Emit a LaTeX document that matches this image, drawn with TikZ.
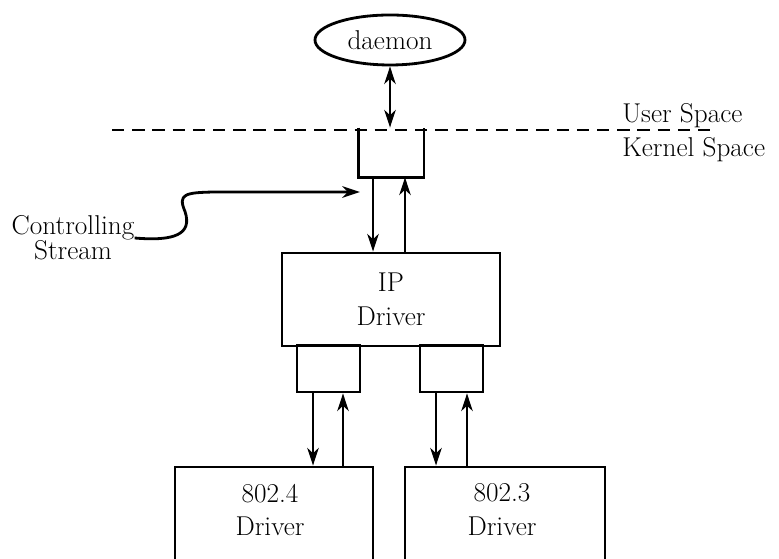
\documentclass[tikz,border=0pt]{standalone}
\usepackage{amsmath}
\usetikzlibrary{arrows.meta,shapes.geometric}

\tikzset{
  oval/.style={ellipse,draw,line width=1.6pt,minimum width=3.00cm,minimum height=1.00cm,inner sep=0pt},
  queue/.style={rectangle,line width=1.6pt,minimum width=1.26cm,minimum height=0.94cm,inner sep=0pt},
  box/.style={rectangle,draw,line width=1.6pt,inner sep=0pt,align=center},
  txt/.style={inner sep=0pt,align=center},
  flow/.style={-{Stealth[length=10pt,width=6.5pt,inset=3pt]},line width=1.6pt},
  both/.style={{Stealth[length=10pt,width=6.5pt,inset=3pt]}-{Stealth[length=10pt,width=6.5pt,inset=3pt]},line width=1.6pt},
  boundary/.style={dash pattern=on 7pt off 4.5pt,line width=1.6pt}
}

\begin{document}
\begin{tikzpicture}[font=\fontsize{15.5}{19.3}\selectfont]
            \useasboundingbox (0,0) rectangle (15.58,11.18);
            \clip (0,0) rectangle (15.58,11.18);

            \node[oval] (daemon) at ( 7.80,10.38) {daemon};
            \node[queue] (q0) at ( 7.82, 8.13) {};
            \node[box,minimum width=4.36cm,minimum height=1.86cm] (ip) at ( 7.82, 5.19) {IP\\Driver};
            \node[queue,draw] (q1) at ( 6.57, 3.81) {};
            \node[queue,draw] (q2) at ( 9.03, 3.81) {};
            \node[box,minimum width=3.96cm,minimum height=2.34cm] (d4) at ( 5.48, 0.67) {};
            \node[box,minimum width=4.00cm,minimum height=2.34cm] (d3) at (10.10, 0.67) {};
            \node[txt] (l4) at ( 5.40, 0.98) {802.4\\Driver};
            \node[txt] (l3) at (10.04, 0.98) {802.3\\Driver};

            \node[txt,font=\fontsize{15.5}{14.2}\selectfont] (cs) at ( 1.46, 6.42) {Controlling\\Stream};
            \node[txt,anchor=base west] (us) at (12.44, 8.72) {User Space};
            \node[txt,anchor=base west] (ks) at (12.44, 8.04) {Kernel Space};

            \coordinate (b1) at ( 2.24, 8.58);
            \coordinate (b2) at (14.24, 8.58);
            \coordinate (ctl) at ( 7.20, 7.34);

            \draw[boundary] (b1) to (b2);
            \draw[line width=1.6pt] (q0.north west) |- (q0.south east) to (q0.north east);

            \draw[both] (daemon.south) to (daemon.south |- q0.north);
            \draw[flow] ([xshift=-0.36cm]q0.south) to ([xshift=-0.36cm]q0.south |- ip.north);
            \draw[flow] ([xshift=0.28cm]q0.south |- ip.north) to ([xshift=0.28cm]q0.south);

            \draw[flow] ([xshift=-0.31cm]q1.south) to ([xshift=-0.31cm]q1.south |- d4.north);
            \draw[flow] ([xshift=0.29cm]q1.south |- d4.north) to ([xshift=0.29cm]q1.south);
            \draw[flow] ([xshift=-0.31cm]q2.south) to ([xshift=-0.31cm]q2.south |- d3.north);
            \draw[flow] ([xshift=0.31cm]q2.south |- d3.north) to ([xshift=0.31cm]q2.south);

            \draw[flow] (cs.east) .. controls (3.50,6.35) and (3.85,6.50) .. (3.70,6.95)
                                  .. controls (3.55,7.30) and (3.70,7.33) .. (4.30,7.34) to (ctl);
          \end{tikzpicture}
\end{document}
